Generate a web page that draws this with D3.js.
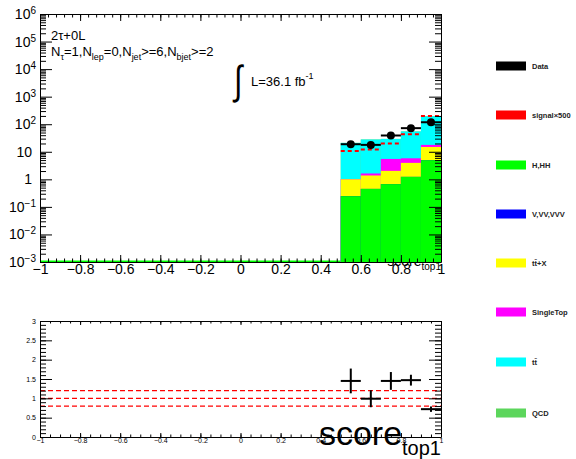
<!DOCTYPE html>
<html><head><meta charset="utf-8">
<script src="https://cdn.jsdelivr.net/npm/d3@7"></script>
<style>
html,body{margin:0;padding:0;background:#fff;}
text{font-family:"Liberation Sans",Arial,Helvetica,sans-serif;}
</style></head>
<body><svg id="c" width="576" height="459"></svg>
<script>
// ---- data ----
const binEdges = [0.5, 0.6, 0.7, 0.8, 0.9, 1.0];
const hhh       = [0.245, 0.45, 0.67, 1.23, 4.96];
const vvv       = [0, 0, 0, 0, 0];
const ttX       = [0.76, 0.93, 1.36, 2.73, 10.0];
const singleTop = [0.02, 0.25, 3.47, 1.84, 2.8];
const ttbar     = [20, 26.2, 23.8, 48.7, 177];
const qcd       = [0, 0, 0, 0, 0];
const dataVals  = [18.8, 17.8, 39, 72, 118];
const signal500 = [10.7, 12, 20, 43, 200];
const ratioVals = [1.45, 0.99, 1.45, 1.47, 0.72];
const ratioErr  = [0.32, 0.22, 0.23, 0.14, 0.07];
const refLines  = [0.8, 1.0, 1.2];
const logTicks  = [1e-3, 1e-2, 1e-1, 1, 10, 1e2, 1e3, 1e4, 1e5, 1e6];
const legendNames  = ["Data", "signal\u00d7500", "H,HH", "V,VV,VVV", "tt\u0304+X", "SingleTop", "tt\u0304", "QCD"];
const legendColors = ["#000000", "#ff0000", "#00ff00", "#0000ff", "#ffff00", "#ff00ff", "#00ffff", "#5cd65c"];
const stackSeries = [
  {name: "H,HH", vals: hhh, color: "#00ff00"},
  {name: "V,VV,VVV", vals: vvv, color: "#0000ff"},
  {name: "ttX", vals: ttX, color: "#ffff00"},
  {name: "SingleTop", vals: singleTop, color: "#ff00ff"},
  {name: "ttbar", vals: ttbar, color: "#00ffff"},
  {name: "QCD", vals: qcd, color: "#5cd65c"}
];

const svg = d3.select("#c");
const L = 40, R = 441;
const x = d3.scaleLinear().domain([-1, 1]).range([L, R]);
const y = d3.scaleLog().domain([1e-3, 1e6]).range([262, 14]);
const yr = d3.scaleLinear().domain([0, 3]).range([437, 321]);

// ---- top pad ----
const topG = svg.append("g");
const xt = topG.append("text").attr("x", R).attr("y", 266).attr("text-anchor", "end").attr("font-size", 14);
xt.append("tspan").text("score");
xt.append("tspan").attr("font-size", 10).attr("dy", 4).text("top1");

svg.append("clipPath").attr("id", "fr").append("rect").attr("x", L).attr("y", 14).attr("width", R - L).attr("height", 248);
const plot = topG.append("g").attr("clip-path", "url(#fr)");

plot.append("line").attr("x1", x(-1)).attr("x2", x(binEdges[0])).attr("y1", y(1e-3)).attr("y2", y(1e-3))
  .attr("stroke", "#00ff00").attr("stroke-width", 3);

const nb = hhh.length;
const cum = new Array(nb).fill(0);
const layers = stackSeries.map(s => {
  const r = s.vals.map((v, i) => { const lo = cum[i]; cum[i] += v; return {i, lo, hi: cum[i]}; });
  return {s, r};
});
layers.slice().reverse().forEach(layer => {
  plot.selectAll(null).data(layer.r.filter(d => d.hi > 0)).enter().append("rect")
    .attr("x", d => x(binEdges[d.i]))
    .attr("width", d => x(binEdges[d.i + 1]) - x(binEdges[d.i]))
    .attr("y", d => y(d.hi))
    .attr("height", d => y(1e-3) - y(d.hi))
    .attr("fill", layer.s.color);
});

plot.selectAll(null).data(signal500).enter().append("line")
  .attr("x1", (d, i) => x(binEdges[i])).attr("x2", (d, i) => x(binEdges[i + 1]))
  .attr("y1", d => y(d)).attr("y2", d => y(d))
  .attr("stroke", "#ff0000").attr("stroke-width", 2).attr("stroke-dasharray", "4,3");

const dg = plot.append("g");
dataVals.forEach((v, i) => {
  const cx = x((binEdges[i] + binEdges[i + 1]) / 2);
  dg.append("line").attr("x1", x(binEdges[i])).attr("x2", x(binEdges[i + 1])).attr("y1", y(v)).attr("y2", y(v))
    .attr("stroke", "#000").attr("stroke-width", 2);
  const e = Math.sqrt(v);
  dg.append("line").attr("x1", cx).attr("x2", cx).attr("y1", y(v + e)).attr("y2", y(Math.max(v - e, 1e-3)))
    .attr("stroke", "#000").attr("stroke-width", 2);
  dg.append("circle").attr("cx", cx).attr("cy", y(v)).attr("r", 4).attr("fill", "#000");
});

function styleAxis(g, fs) {
  g.select(".domain").attr("stroke", "#000").attr("stroke-width", 1);
  g.selectAll(".tick line").attr("stroke", "#000");
  g.selectAll("text").attr("font-size", fs).attr("font-family", "Liberation Sans,Arial,sans-serif").attr("fill", "#000");
}
function minorAxis(parent, axis, tr) {
  parent.append("g").attr("transform", tr).call(axis)
    .call(g => { g.select(".domain").remove(); g.selectAll("line").attr("stroke", "#000"); });
}
const xMajor = d3.range(-1, 1.0001, 0.2).map(v => +v.toFixed(2));
const xMinorTop = d3.range(-1, 1.0001, 0.04).map(v => +v.toFixed(2));
const fmtX = v => (v === 0 ? "0" : d3.format("")(v)).replace("-", "\u2212");

const gxb = topG.append("g").attr("transform", `translate(0,${y(1e-3)})`)
  .call(d3.axisBottom(x).tickValues(xMajor).tickSizeInner(-7).tickSizeOuter(0).tickPadding(2).tickFormat(fmtX));
styleAxis(gxb, 14);
minorAxis(topG, d3.axisBottom(x).tickValues(xMinorTop).tickSizeInner(-3.5).tickSizeOuter(0).tickFormat(""), `translate(0,${y(1e-3)})`);
const gxt = topG.append("g").attr("transform", `translate(0,${y(1e6)})`)
  .call(d3.axisTop(x).tickValues(xMajor).tickSizeInner(-7).tickSizeOuter(0).tickFormat(""));
styleAxis(gxt, 14);
minorAxis(topG, d3.axisTop(x).tickValues(xMinorTop).tickSizeInner(-3.5).tickSizeOuter(0).tickFormat(""), `translate(0,${y(1e6)})`);

const minorLog = [];
for (let e = -3; e < 6; e++) for (let m = 2; m <= 9; m++) minorLog.push(m * Math.pow(10, e));

const gyl = topG.append("g").attr("transform", `translate(${L},0)`)
  .call(d3.axisLeft(y).tickValues(logTicks).tickSizeInner(-12).tickSizeOuter(0).tickPadding(4).tickFormat(d => ""));
styleAxis(gyl, 14);
gyl.selectAll(".tick text").each(function(d) {
  const t = d3.select(this);
  const e = Math.round(Math.log10(d));
  if (e === 0) { t.text("1").attr("x", -8); }
  else if (e === 1) { t.text("10").attr("x", -8); }
  else {
    t.text(null);
    t.append("tspan").text("10");
    t.append("tspan").attr("font-size", 10).attr("dy", -5).text(String(e).replace("-", "\u2212"));
  }
});
minorAxis(topG, d3.axisLeft(y).tickValues(minorLog).tickSizeInner(-6).tickSizeOuter(0).tickFormat(""), `translate(${L},0)`);
const gyr = topG.append("g").attr("transform", `translate(${R},0)`)
  .call(d3.axisRight(y).tickValues(logTicks).tickSizeInner(-12).tickSizeOuter(0).tickFormat(""));
styleAxis(gyr, 14);
minorAxis(topG, d3.axisRight(y).tickValues(minorLog).tickSizeInner(-6).tickSizeOuter(0).tickFormat(""), `translate(${R},0)`);

// annotations
topG.append("text").attr("x", 51).attr("y", 40).attr("font-size", 13).text("2\u03c4+0L");
const an = topG.append("text").attr("x", 51).attr("y", 56).attr("font-size", 13);
function sub(txt) { an.append("tspan").attr("font-size", 9).attr("dy", 4).text(txt); }
function norm(txt) { an.append("tspan").attr("font-size", 13).attr("dy", -4).text(txt); }
an.append("tspan").text("N");
sub("\u03c4"); norm("=1,N"); sub("lep"); norm("=0,N"); sub("jet"); norm(">=6,N"); sub("bjet"); norm(">=2");
topG.append("text").attr("x", 234).attr("y", 92).attr("font-size", 30).attr("transform", "translate(0,-30) scale(1,1.35)")
  .attr("dy", 0).text("\u222b");
const lt = topG.append("text").attr("x", 251).attr("y", 86).attr("font-size", 13);
lt.append("tspan").text("L=36.1 fb");
lt.append("tspan").attr("font-size", 9).attr("dy", -7).text("-1");

// ---- bottom pad ----
const bot = svg.append("g");
bot.selectAll(null).data(refLines).enter().append("line")
  .attr("x1", L).attr("x2", R).attr("y1", d => yr(d)).attr("y2", d => yr(d))
  .attr("stroke", "#ff0000").attr("stroke-width", 1.3).attr("stroke-dasharray", "5,3");

ratioVals.forEach((v, i) => {
  const cx = x((binEdges[i] + binEdges[i + 1]) / 2);
  bot.append("line").attr("x1", x(binEdges[i])).attr("x2", x(binEdges[i + 1])).attr("y1", yr(v)).attr("y2", yr(v))
    .attr("stroke", "#000").attr("stroke-width", 2);
  bot.append("line").attr("x1", cx).attr("x2", cx).attr("y1", yr(v + ratioErr[i])).attr("y2", yr(v - ratioErr[i]))
    .attr("stroke", "#000").attr("stroke-width", 2);
});

const xMinorBot = d3.range(-1, 1.0001, 0.05).map(v => +v.toFixed(2));
const gbx = bot.append("g").attr("transform", `translate(0,${yr(0)})`)
  .call(d3.axisBottom(x).tickValues(xMajor).tickSizeInner(-4).tickSizeOuter(0).tickPadding(1).tickFormat(fmtX));
styleAxis(gbx, 7);
minorAxis(bot, d3.axisBottom(x).tickValues(xMinorBot).tickSizeInner(-2.5).tickSizeOuter(0).tickFormat(""), `translate(0,${yr(0)})`);
const gbt = bot.append("g").attr("transform", `translate(0,${yr(3)})`)
  .call(d3.axisTop(x).tickValues(xMajor).tickSizeInner(-4).tickSizeOuter(0).tickFormat(""));
styleAxis(gbt, 7);
minorAxis(bot, d3.axisTop(x).tickValues(xMinorBot).tickSizeInner(-2.5).tickSizeOuter(0).tickFormat(""), `translate(0,${yr(3)})`);

const yMajorR = [0, 0.5, 1, 1.5, 2, 2.5, 3];
const yMinorR = d3.range(0, 3.0001, 0.1).map(v => +v.toFixed(2));
const gby = bot.append("g").attr("transform", `translate(${L},0)`)
  .call(d3.axisLeft(yr).tickValues(yMajorR).tickSizeInner(-12).tickSizeOuter(0).tickPadding(4).tickFormat(d3.format("")));
styleAxis(gby, 7);
minorAxis(bot, d3.axisLeft(yr).tickValues(yMinorR).tickSizeInner(-6).tickSizeOuter(0).tickFormat(""), `translate(${L},0)`);
const gbyr = bot.append("g").attr("transform", `translate(${R},0)`)
  .call(d3.axisRight(yr).tickValues(yMajorR).tickSizeInner(-12).tickSizeOuter(0).tickFormat(""));
styleAxis(gbyr, 7);
minorAxis(bot, d3.axisRight(yr).tickValues(yMinorR).tickSizeInner(-6).tickSizeOuter(0).tickFormat(""), `translate(${R},0)`);

const bt = bot.append("text").attr("x", R).attr("y", 445).attr("text-anchor", "end").attr("font-size", 34);
bt.append("tspan").text("score");
bt.append("tspan").attr("font-size", 20).attr("dy", 10).text("top1");

// ---- legend ----
const lg = svg.append("g");
const legY = [66, 115, 165, 214, 263, 312, 362, 413];
legendNames.forEach((n, i) => {
  lg.append("rect").attr("x", 496).attr("y", legY[i] - 4.5).attr("width", 30).attr("height", 9).attr("fill", legendColors[i]);
  lg.append("text").attr("x", 532).attr("y", legY[i] + 3).attr("font-size", 7.5).attr("font-weight", "bold").attr("fill", "#222").text(n);
});
</script></body></html>
